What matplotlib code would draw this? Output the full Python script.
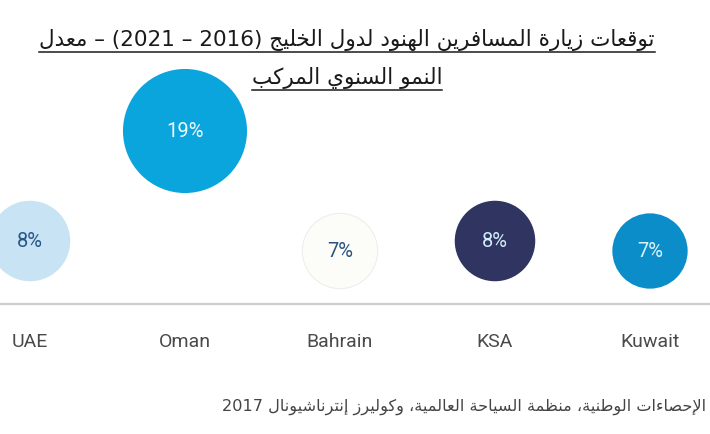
import re
import matplotlib
matplotlib.use('Agg')
import matplotlib.pyplot as plt
from matplotlib.lines import Line2D

countries = ['UAE', 'Oman', 'Bahrain', 'KSA', 'Kuwait']
cagr = [8, 19, 7, 8, 7]
value_labels = ['8%', '19%', '7%', '8%', '7%']
title_lines = ['توقعات زيارة المسافرين الهنود لدول الخليج (2016 – 2021) – معدل',
               'النمو السنوي المركب']
source_text = 'المصدر: الإحصاءات الوطنية، منظمة السياحة العالمية، وكوليرز إنترناشيونال 2017'

fill_colors = ['#c8e4f4', '#0aa5dc', '#fcfcf8', '#2f3460', '#0b8dc9']
text_colors = ['#2a5687', '#eef8fd', '#2b5580', '#d2ecfa', '#dcf2fb']

# matplotlib does no Arabic shaping, so map letters to presentation forms by hand
# letter -> (first presentation-form code point, number of forms)
_forms = {}
for ch, start, n in [
        ('ء', 0xFE80, 1), ('آ', 0xFE81, 2), ('أ', 0xFE83, 2), ('ؤ', 0xFE85, 2),
        ('إ', 0xFE87, 2), ('ئ', 0xFE89, 4), ('ا', 0xFE8D, 2), ('ب', 0xFE8F, 4),
        ('ة', 0xFE93, 2), ('ت', 0xFE95, 4), ('ث', 0xFE99, 4), ('ج', 0xFE9D, 4),
        ('ح', 0xFEA1, 4), ('خ', 0xFEA5, 4), ('د', 0xFEA9, 2), ('ذ', 0xFEAB, 2),
        ('ر', 0xFEAD, 2), ('ز', 0xFEAF, 2), ('س', 0xFEB1, 4), ('ش', 0xFEB5, 4),
        ('ص', 0xFEB9, 4), ('ض', 0xFEBD, 4), ('ط', 0xFEC1, 4), ('ظ', 0xFEC5, 4),
        ('ع', 0xFEC9, 4), ('غ', 0xFECD, 4), ('ف', 0xFED1, 4), ('ق', 0xFED5, 4),
        ('ك', 0xFED9, 4), ('ل', 0xFEDD, 4), ('م', 0xFEE1, 4), ('ن', 0xFEE5, 4),
        ('ه', 0xFEE9, 4), ('و', 0xFEED, 2), ('ى', 0xFEEF, 2), ('ي', 0xFEF1, 4)]:
    _forms[ch] = (start, n)
LAM_ALEF = {'آ': 0xFEF5, 'أ': 0xFEF7, 'إ': 0xFEF9, 'ا': 0xFEFB}
MIRROR = {'(': ')', ')': '('}


def shape(s):
    out = []
    i = 0
    while i < len(s):
        c = s[i]
        if c not in _forms:
            out.append(c)
            i += 1
            continue
        prev = s[i - 1] if i > 0 else ''
        joins_prev = prev in _forms and _forms[prev][1] == 4 and _forms[c][1] > 1
        if c == 'ل' and i + 1 < len(s) and s[i + 1] in LAM_ALEF:
            out.append(chr(LAM_ALEF[s[i + 1]] + (1 if joins_prev else 0)))
            i += 2
            continue
        nxt = s[i + 1] if i + 1 < len(s) else ''
        start, n = _forms[c]
        joins_next = n == 4 and nxt in _forms and _forms[nxt][1] > 1
        if n == 1:
            form = 0
        elif joins_prev and joins_next:
            form = 3
        elif joins_prev:
            form = 1
        elif joins_next:
            form = 2
        else:
            form = 0
        out.append(chr(start + form))
        i += 1
    return ''.join(out)


def rtl(s):
    # visual order for a right-to-left line, numbers stay left-to-right
    rev = shape(s)[::-1]
    rev = re.sub(r'\d+', lambda m: m.group()[::-1], rev)
    return ''.join(MIRROR.get(c, c) for c in rev)


fig = plt.figure(figsize=(7.1, 4.35), dpi=100)
ax = fig.add_axes([0, 0, 1, 1])
# 155 px between bubbles, first one at x=30px; 10 px per percentage point
ax.set_xlim(-30 / 155, 680 / 155)
ax.set_ylim(-11.3, 32.2)
ax.axis('off')

ax.axhline(1.7, color='#cfcdc9', lw=1.6, zorder=1)

xs = list(range(len(countries)))
ax.scatter(xs, cagr, s=[420 * v for v in cagr], c=fill_colors,
           edgecolors=['none', 'none', '#efefea', 'none', 'none'],
           linewidths=0.8, zorder=2)

for x, v, lab, col in zip(xs, cagr, value_labels, text_colors):
    ax.text(x, v, lab, ha='center', va='center', fontsize=14.5,
            family='Roboto', color=col, zorder=3)

for x, name in zip(xs, countries):
    ax.text(x, -2.0, name, ha='center', va='center', fontsize=14,
            family='Roboto', color='#4a4a4a')

# title, underlined
title_y = [40 / 435, 78 / 435]
renderer = fig.canvas.get_renderer()
for line, ty in zip(title_lines, title_y):
    t = fig.text(347 / 710, 1 - ty, rtl(line), ha='center', va='center',
                 fontsize=15.5, family='DejaVu Sans', color='#1a1a1a')
    bb = t.get_window_extent(renderer=renderer)
    uy = (bb.y0 - 2) / fig.bbox.height
    fig.add_artist(Line2D([bb.x0 / fig.bbox.width, bb.x1 / fig.bbox.width], [uy, uy],
                          color='#1a1a1a', lw=1.1))

# source line runs past the right edge, as in the original crop
fig.text(222 / 710, 1 - 407 / 435, rtl(source_text), ha='left', va='center',
         fontsize=11.6, family='DejaVu Sans', color='#444444')

fig.savefig('out.png', dpi=100)
